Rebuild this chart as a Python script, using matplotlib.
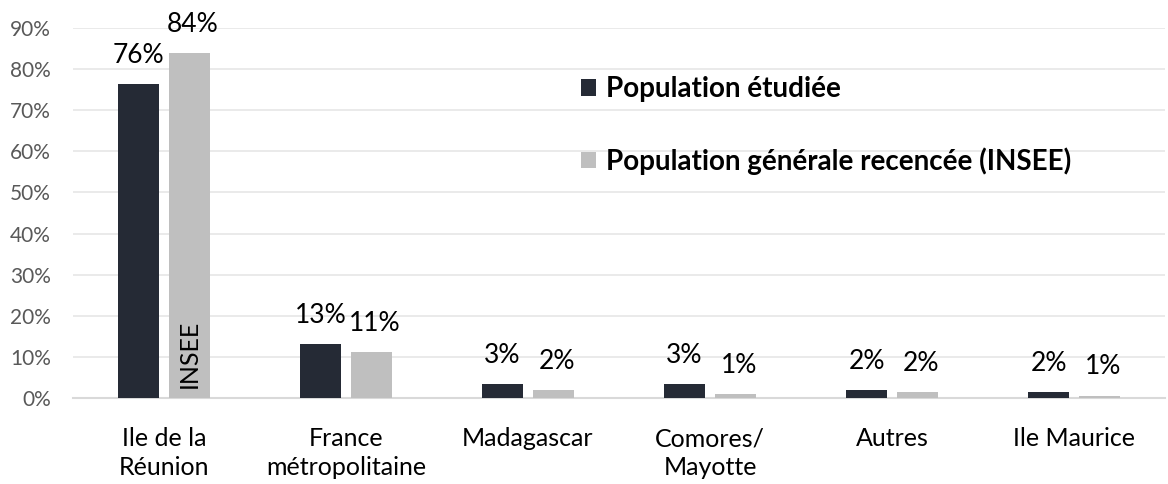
import numpy as np
import matplotlib
matplotlib.use("Agg")
import matplotlib.pyplot as plt
from matplotlib.ticker import PercentFormatter

categories = ["Ile de la\nRéunion", "France\nmétropolitaine", "Madagascar",
              "Comores/\nMayotte", "Autres", "Ile Maurice"]
etudiee = [76.4, 13.2, 3.35, 3.3, 1.9, 1.5]
insee = [83.9, 11.1, 2.05, 0.9, 1.5, 0.6]
etudiee_labels = ["76%", "13%", "3%", "3%", "2%", "2%"]
insee_labels = ["84%", "11%", "2%", "1%", "2%", "1%"]
series_names = ["Population étudiée", "Population générale recencée (INSEE)"]

plt.rcParams["font.family"] = ["Lato", "DejaVu Sans"]

dark = "#252A35"
grey = "#BFBFBF"

fig = plt.figure(figsize=(11.68, 4.84), dpi=100)
ax = fig.add_axes([73 / 1168, 1 - 398 / 484, (1165 - 73) / 1168, (398 - 28) / 484])

x = np.arange(len(categories))
w = 0.225
off = 0.14
b1 = ax.bar(x - off, etudiee, w, color=dark, label=series_names[0], zorder=3)
b2 = ax.bar(x + off, insee, w, color=grey, label=series_names[1], zorder=3)

for xi, v, t in zip(x, etudiee, etudiee_labels):
    ax.text(xi - off, v + 3.9, t, ha="center", va="bottom", fontsize=19, color="black")
for xi, v, t in zip(x, insee, insee_labels):
    ax.text(xi + off + 0.02, v + 3.9, t, ha="center", va="bottom", fontsize=19, color="black")

ax.text(0 + off, 2.4, "INSEE", rotation=90, ha="center", va="bottom", fontsize=18, color="black")

ax.set_xlim(-0.5, len(categories) - 0.5)
ax.set_ylim(0, 90)
ax.set_yticks(np.arange(0, 91, 10))
ax.yaxis.set_major_formatter(PercentFormatter(decimals=0))
ax.set_xticks(x)
ax.set_xticklabels(categories, fontsize=18, color="black", linespacing=1.3)
ax.tick_params(axis="y", labelsize=15, labelcolor="#595959", length=0, pad=16)
ax.tick_params(axis="x", length=0, pad=21)

ax.grid(axis="y", color="#E6E6E6", linewidth=1.2, zorder=0)
for s in ["top", "right", "left"]:
    ax.spines[s].set_visible(False)
ax.spines["bottom"].set_color("#D9D9D9")
ax.spines["bottom"].set_linewidth(1.5)

leg = fig.legend(handles=[b1, b2], loc="upper left", bbox_to_anchor=(570 / 1168, 1 - 65 / 484),
                 frameon=False, prop={"weight": "bold", "size": 20}, handlelength=0.55,
                 handleheight=0.55, handletextpad=0.35, labelspacing=1.62, borderaxespad=0)

fig.savefig("out.png", dpi=100)
